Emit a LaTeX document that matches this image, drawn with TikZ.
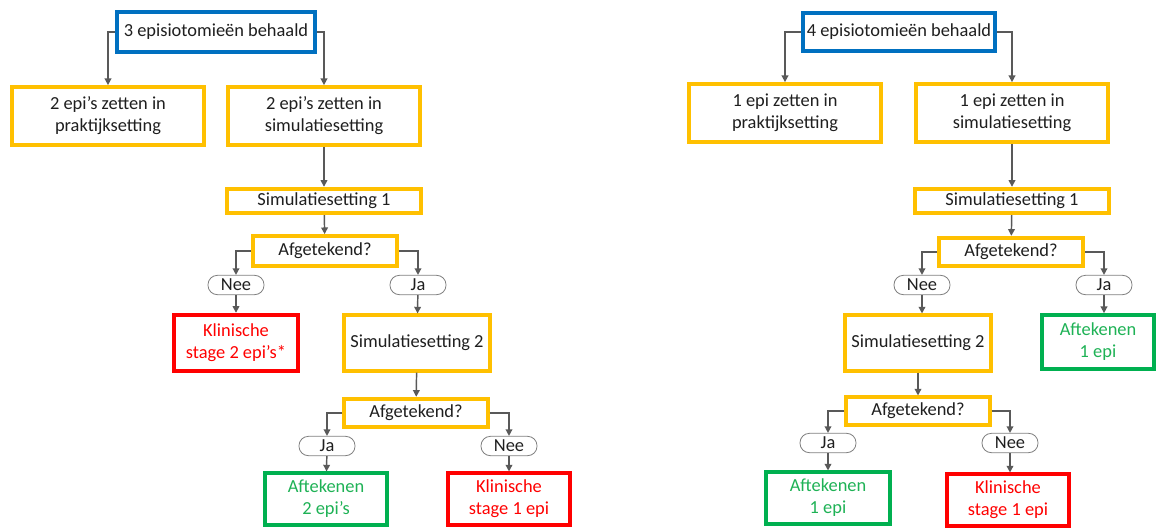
\documentclass[tikz,border=0pt]{standalone}
\usepackage{fontspec}
\setmainfont{Carlito}
\usetikzlibrary{arrows.meta}
\definecolor{boxblue}{RGB}{0,112,192}
\definecolor{boxgold}{RGB}{255,192,0}
\definecolor{boxred}{RGB}{255,0,0}
\definecolor{boxgreen}{RGB}{0,176,80}
\definecolor{txtgreen}{RGB}{30,178,85}
\definecolor{linegray}{RGB}{89,89,89}
\definecolor{pillgray}{RGB}{127,127,127}
\tikzset{
  box/.style={draw, line width=2.8pt, fill=white, align=center, inner sep=0pt, text=black!88},
  topbox/.style={box, draw=boxblue},
  stepbox/.style={box, draw=boxgold},
  failbox/.style={box, draw=boxred, text=boxred},
  passbox/.style={box, draw=boxgreen, text=txtgreen},
  pill/.style={draw=pillgray, line width=.6pt, rounded corners=7pt, minimum width=42pt, minimum height=14.5pt, inner sep=0pt, text=black!88},
  conn/.style={draw=linegray, line width=1.1pt, -{Triangle[length=5pt,width=5pt]}},
  dim/.style 2 args={minimum width=#1pt, minimum height=#2pt},
}

\begin{document}
\begin{tikzpicture}[x=0.75pt, y=-0.75pt, font=\fontsize{13.8}{16.5}\selectfont]
\useasboundingbox (0,0) rectangle (1156,528);
% left tree
\node[topbox, dim={148.5}{29.5}] (topA) at (216,32) {3 episiotomieën behaald};
\node[stepbox, dim={144.5}{43.5}] (praktA) at (108,116) {2 epi’s zetten in\\praktijksetting};
\node[stepbox, dim={144.5}{43.5}] (simA) at (324,116) {2 epi’s zetten in\\simulatiesetting};
\node[stepbox, dim={145.5}{18.5}] (sim1A) at (324,201) {Simulatiesetting 1};
\node[stepbox, dim={108.5}{22.5}] (afg1A) at (325,251) {Afgetekend?};
\node[pill] (nee1A) at (236,285) {Nee};
\node[pill] (ja1A) at (418,285) {Ja};
\node[failbox, dim={92.5}{42.5}] (klin1A) at (236,343) {Klinische\\stage 2 epi’s*};
\node[stepbox, dim={109.5}{41.5}] (sim2A) at (417,343) {Simulatiesetting 2};
\node[stepbox, dim={107.5}{21.5}] (afg2A) at (416,413) {Afgetekend?};
\node[pill] (ja2A) at (327,446) {Ja};
\node[pill] (nee2A) at (509,446) {Nee};
\node[passbox, dim={91.5}{38.5}] (aftA) at (326,499) {Aftekenen\\2 epi’s};
\node[failbox, dim={91.5}{38.5}] (klin2A) at (509,499) {Klinische\\stage 1 epi};

\draw[conn] (topA.west) -| (praktA.north);
\draw[conn] (topA.east) -| (simA.north);
\draw[conn] (simA) -- (sim1A);
\draw[conn] (sim1A) -- (afg1A);
\draw[conn] (afg1A.west) -| (nee1A.north);
\draw[conn] (afg1A.east) -| (ja1A.north);
\draw[conn] (nee1A) -- (klin1A);
\draw[conn] (ja1A) -- (sim2A);
\draw[conn] (sim2A) -- (afg2A);
\draw[conn] (afg2A.west) -| (ja2A.north);
\draw[conn] (afg2A.east) -| (nee2A.north);
\draw[conn] (ja2A) -- (aftA);
\draw[conn] (nee2A) -- (klin2A);

% right tree
\node[topbox, dim={144.5}{28.5}] (topB) at (899,32) {4 episiotomieën behaald};
\node[stepbox, dim={143.5}{43.5}] (praktB) at (785,113) {1 epi zetten in\\praktijksetting};
\node[stepbox, dim={143.5}{43.5}] (simB) at (1012,113) {1 epi zetten in\\simulatiesetting};
\node[stepbox, dim={145.5}{18.5}] (sim1B) at (1012,201) {Simulatiesetting 1};
\node[stepbox, dim={108.5}{21.5}] (afg1B) at (1011,252) {Afgetekend?};
\node[pill] (nee1B) at (922,285) {Nee};
\node[pill] (ja1B) at (1104,285) {Ja};
\node[stepbox, dim={109.5}{41.5}] (sim2B) at (918,343) {Simulatiesetting 2};
\node[passbox, dim={84.5}{40.5}] (aftB) at (1098,342) {Aftekenen\\1 epi};
\node[stepbox, dim={107.5}{20.5}] (afg2B) at (918,411) {Afgetekend?};
\node[pill] (ja2B) at (828,443) {Ja};
\node[pill] (nee2B) at (1010,443) {Nee};
\node[passbox, dim={92.5}{38.5}] (aftC) at (828,498) {Aftekenen\\1 epi};
\node[failbox, dim={91.5}{38.5}] (klinB) at (1008,500) {Klinische\\stage 1 epi};

\draw[conn] (topB.west) -| (praktB.north);
\draw[conn] (topB.east) -| (simB.north);
\draw[conn] (simB) -- (sim1B);
\draw[conn] (sim1B) -- (afg1B);
\draw[conn] (afg1B.west) -| (nee1B.north);
\draw[conn] (afg1B.east) -| (ja1B.north);
\draw[conn] (nee1B.south) -- (nee1B.south |- sim2B.north);
\draw[conn] (ja1B.south) -- (ja1B.south |- aftB.north);
\draw[conn] (sim2B) -- (afg2B);
\draw[conn] (afg2B.west) -| (ja2B.north);
\draw[conn] (afg2B.east) -| (nee2B.north);
\draw[conn] (ja2B) -- (aftC);
\draw[conn] (nee2B.south) -- (nee2B.south |- klinB.north);
\end{tikzpicture}
\end{document}
